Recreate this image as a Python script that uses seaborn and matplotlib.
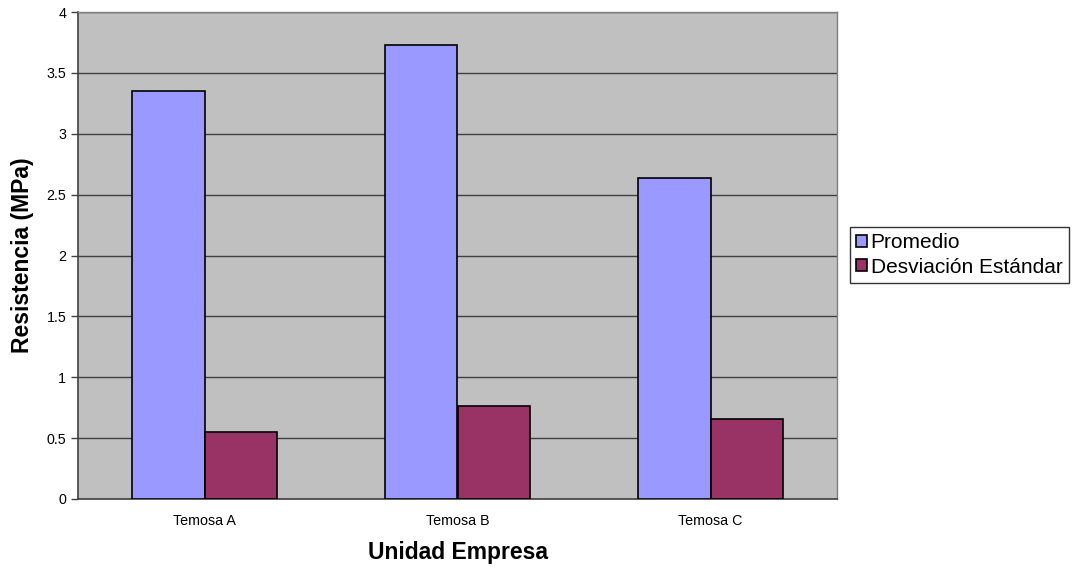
import pandas as pd
import matplotlib.pyplot as plt
import seaborn as sns

# data
empresas = ['Temosa A', 'Temosa B', 'Temosa C']
promedio = [3.35, 3.73, 2.64]
desviacion = [0.55, 0.76, 0.66]
series = ['Promedio', 'Desviación Estándar']

df = pd.DataFrame({'Empresa': empresas, series[0]: promedio, series[1]: desviacion})
df_melted = df.melt(id_vars='Empresa', value_vars=series, var_name='Serie', value_name='Valor')

sns.set_style('white')
plt.rcParams['font.family'] = ['Liberation Sans', 'DejaVu Sans']
plt.rcParams['text.color'] = 'black'
plt.rcParams['axes.labelcolor'] = 'black'
plt.rcParams['xtick.color'] = 'black'
plt.rcParams['ytick.color'] = 'black'

fig = plt.figure(figsize=(10.75, 5.69), dpi=100)
ax = fig.add_axes([78 / 1075, 70 / 569, (837 - 78) / 1075, (499 - 12) / 569])
ax.set_facecolor('#C0C0C0')

sns.barplot(x='Empresa', y='Valor', hue='Serie', data=df_melted, palette=['#9999FF', '#993366'],
            saturation=1, width=0.57, gap=0, edgecolor='black', linewidth=1.2, ax=ax, zorder=3)

ax.set_ylim(0, 4)
ax.set_xlim(-0.5, 2.5)
ax.set_yticks([0, 0.5, 1, 1.5, 2, 2.5, 3, 3.5, 4])
ax.set_yticklabels(['0', '0.5', '1', '1.5', '2', '2.5', '3', '3.5', '4'])
ax.yaxis.grid(True, color='#404040', linewidth=1)
ax.set_axisbelow(True)

# category boundary ticks on x axis
ax.set_xticks([0, 1, 2])
ax.tick_params(axis='x', length=0, labelsize=10.3, pad=11)
ax.set_xticks([0.5, 1.5, 2.5], minor=True)
ax.tick_params(axis='x', which='minor', length=5, width=1, color='#404040', direction='out')
ax.tick_params(axis='y', length=5, width=1, color='#404040', direction='out', labelsize=10.3, left=True)

for side in ['left', 'bottom']:
    ax.spines[side].set_color('#404040')
    ax.spines[side].set_linewidth(1.2)
for side in ['top', 'right']:
    ax.spines[side].set_color('#808080')
    ax.spines[side].set_linewidth(1)

ax.set_xlabel('Unidad Empresa', fontsize=16.5, fontweight='bold', labelpad=9)
ax.set_ylabel('Resistencia (MPa)', fontsize=16.5, fontweight='bold', labelpad=9)

leg = ax.legend(loc='center left', bbox_to_anchor=(1.017, 0.501), frameon=True, fontsize=15,
                handlelength=0.5, handleheight=0.5, handletextpad=0.2, borderpad=0.3,
                labelspacing=0.25, fancybox=False, borderaxespad=0)
leg.get_frame().set_edgecolor('black')
leg.get_frame().set_linewidth(1)

plt.savefig('out.png', dpi=100)
